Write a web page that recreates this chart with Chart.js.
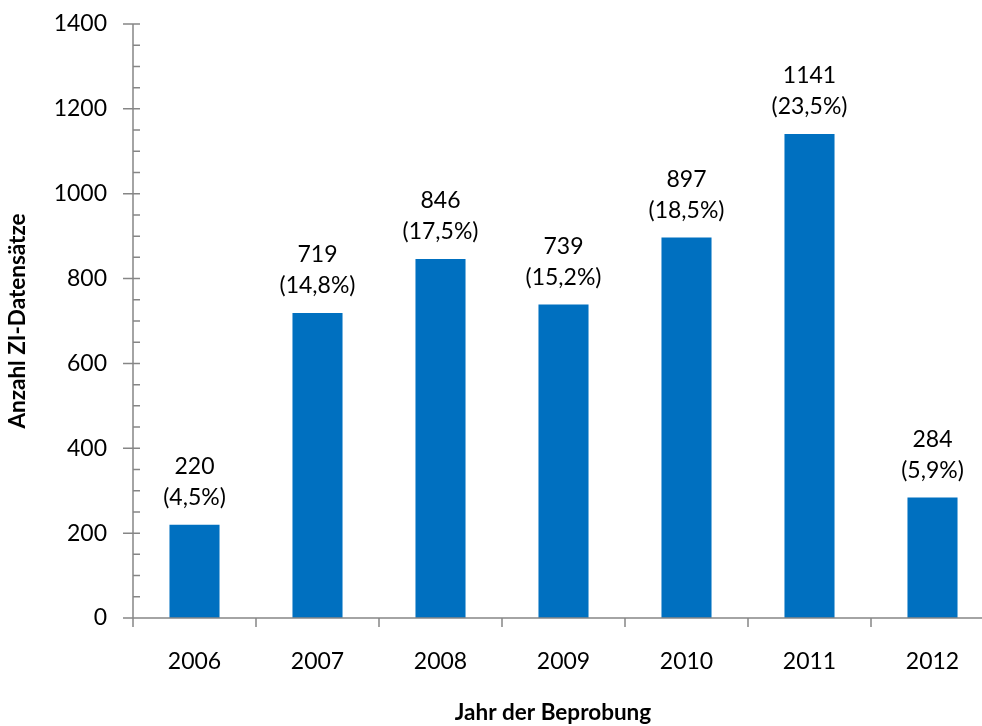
<!DOCTYPE html>
<html>
<head>
<meta charset="utf-8">
<script src="https://cdn.jsdelivr.net/npm/chart.js@4"></script>
<style>
  html, body { margin: 0; padding: 0; background: #fff; overflow: hidden; }
  #wrap { width: 982px; height: 726px; overflow: hidden; }
</style>
</head>
<body>
<div id="wrap"><canvas id="chart" width="994" height="726"></canvas></div>
<script>
// Daten
var years = ['2006', '2007', '2008', '2009', '2010', '2011', '2012'];
var counts = [220, 719, 846, 739, 897, 1141, 284];
var shares = ['(4,5%)', '(14,8%)', '(17,5%)', '(15,2%)', '(18,5%)', '(23,5%)', '(5,9%)'];
var yTicksMax = 1400;
var yStep = 200;
var yMinorStep = 50;

var barColor = '#0070C0';
var axisColor = '#868686';
var fontFamily = 'Lato, "Open Sans", sans-serif';

// Achsen, Teilstriche und Titel selbst zeichnen
var axesPlugin = {
    id: 'axesPlugin',
    afterDraw: function(chart) {
        var ctx = chart.ctx;
        var a = chart.chartArea;
        var x = chart.scales.x;
        var y = chart.scales.y;
        ctx.save();
        ctx.strokeStyle = axisColor;
        ctx.lineWidth = 1.5;
        ctx.beginPath();
        ctx.moveTo(a.left, a.top);
        ctx.lineTo(a.left, a.bottom + 9);
        ctx.moveTo(a.left, a.bottom);
        ctx.lineTo(a.right, a.bottom);
        for (var v = 0; v <= yTicksMax; v += yMinorStep) {
            var py = y.getPixelForValue(v);
            if (v % yStep === 0) {
                ctx.moveTo(a.left - 10, py);
            } else {
                ctx.moveTo(a.left, py);
            }
            ctx.lineTo(a.left + 7, py);
        }
        for (var i = 1; i <= years.length; i++) {
            var px = (x.getPixelForValue(i - 1) + x.getPixelForValue(Math.min(i, years.length - 1))) / 2;
            if (i === years.length) px = a.right;
            ctx.moveTo(px, a.bottom);
            ctx.lineTo(px, a.bottom + 9);
        }
        ctx.stroke();

        // Achsentitel
        ctx.fillStyle = '#000';
        ctx.font = 'bold 22.5px ' + fontFamily;
        ctx.textAlign = 'center';
        ctx.textBaseline = 'middle';
        ctx.fillText('Jahr der Beprobung', 553, 713);
        ctx.translate(18, (a.top + a.bottom) / 2);
        ctx.rotate(-Math.PI / 2);
        ctx.fillText('Anzahl ZI-Datensätze', 0, 0);
        ctx.restore();
    },
    afterDatasetsDraw: function(chart) {
        var ctx = chart.ctx;
        var meta = chart.getDatasetMeta(0);
        ctx.save();
        ctx.fillStyle = '#000';
        ctx.font = '23px ' + fontFamily;
        ctx.textAlign = 'center';
        ctx.textBaseline = 'middle';
        meta.data.forEach(function(bar, i) {
            ctx.fillText(String(counts[i]), bar.x, bar.y - 58);
            ctx.fillText(shares[i], bar.x, bar.y - 27);
        });
        ctx.restore();
    }
};

var ctx = document.getElementById('chart').getContext('2d');
new Chart(ctx, {
    type: 'bar',
    data: {
        labels: years,
        datasets: [{
            data: counts,
            backgroundColor: barColor,
            borderWidth: 0,
            categoryPercentage: 1,
            barPercentage: 0.407
        }]
    },
    options: {
        responsive: false,
        animation: false,
        layout: { padding: { top: 24, right: 0, left: 0, bottom: 0 } },
        plugins: {
            legend: { display: false },
            tooltip: { enabled: false }
        },
        scales: {
            x: {
                offset: true,
                grid: { display: false, drawTicks: false },
                border: { display: false },
                ticks: {
                    color: '#000',
                    font: { family: fontFamily, size: 23 },
                    padding: 30,
                    maxRotation: 0
                },
                afterFit: function(s) {
                    s.height = 108;
                    s.paddingLeft = 0;
                    s.paddingRight = 0;
                }
            },
            y: {
                min: 0,
                max: yTicksMax,
                grid: { display: false, drawTicks: false },
                border: { display: false },
                ticks: {
                    stepSize: yStep,
                    color: '#000',
                    font: { family: fontFamily, size: 23 },
                    padding: 26,
                    callback: function(v) { return String(v); }
                },
                afterFit: function(s) {
                    s.width = 133;
                    s.paddingTop = 0;
                    s.paddingBottom = 0;
                }
            }
        }
    },
    plugins: [axesPlugin]
});
</script>
</body>
</html>
